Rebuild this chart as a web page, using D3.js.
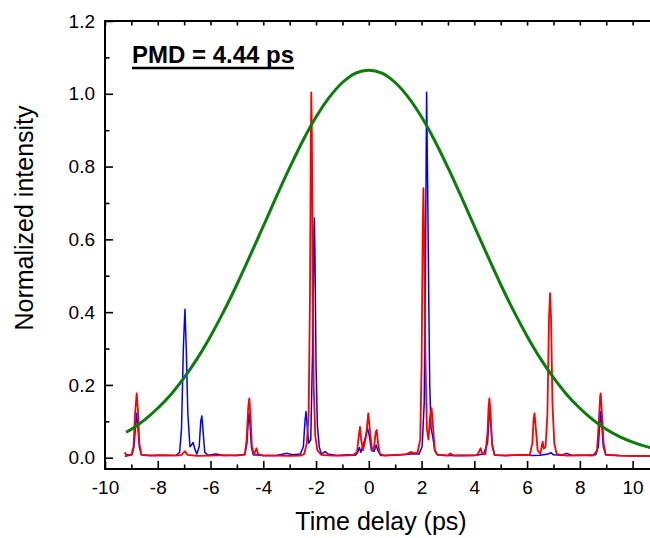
<!DOCTYPE html>
<html lang="en">
<head>
<meta charset="UTF-8">
<title>PMD time delay</title>
<script src="https://d3js.org/d3.v7.min.js"></script>
<style>
  body { margin: 0; background: #fff; }
  svg { display: block; font-family: Arial, "Liberation Sans", sans-serif; }
  .tick text { font-size: 19px; fill: #000; }
  .tick line { stroke: #000; stroke-width: 1.6px; }
  .axis-title { font-size: 25px; fill: #000; }
</style>
</head>
<body>
<svg width="650" height="538"></svg>
<script>
// measured traces, [time delay (ps), normalized intensity]
const blueTrace = [
  [-9.25,0.004],[-9.1,0.006],[-8.98,0.008],[-8.9,0.03],[-8.84,0.09],[-8.8,0.122],[-8.76,0.09],[-8.7,0.03],
  [-8.62,0.008],[-8.4,0.006],[-8.0,0.007],[-7.6,0.006],[-7.3,0.007],[-7.17,0.015],[-7.1,0.08],[-7.03,0.3],
  [-6.97,0.408],[-6.92,0.3],[-6.86,0.12],[-6.78,0.03],[-6.72,0.035],[-6.66,0.042],[-6.6,0.025],[-6.52,0.01],
  [-6.43,0.03],[-6.37,0.1],[-6.33,0.115],[-6.29,0.08],[-6.22,0.015],[-6.1,0.007],[-5.8,0.01],[-5.5,0.006],
  [-5.0,0.007],[-4.7,0.008],[-4.62,0.04],[-4.57,0.1],[-4.54,0.122],[-4.5,0.09],[-4.45,0.03],[-4.38,0.008],
  [-4.0,0.006],[-3.5,0.006],[-3.1,0.012],[-2.9,0.008],[-2.6,0.01],[-2.48,0.03],[-2.42,0.1],[-2.38,0.127],
  [-2.34,0.09],[-2.28,0.04],[-2.2,0.05],[-2.13,0.3],[-2.08,0.62],[-2.065,0.659],[-2.04,0.55],[-2.0,0.25],
  [-1.95,0.09],[-1.88,0.03],[-1.8,0.01],[-1.65,0.017],[-1.55,0.01],[-1.2,0.006],[-0.8,0.008],[-0.5,0.007],
  [-0.42,0.015],[-0.36,0.028],[-0.3,0.015],[-0.22,0.035],[-0.15,0.05],[-0.05,0.081],[0.02,0.06],[0.1,0.02],
  [0.2,0.018],[0.28,0.035],[0.34,0.02],[0.45,0.006],[0.8,0.007],[1.2,0.008],[1.6,0.01],[1.9,0.01],
  [2.02,0.03],[2.1,0.15],[2.15,0.55],[2.19,1.004],[2.23,0.75],[2.27,0.45],[2.31,0.2],[2.36,0.08],
  [2.42,0.06],[2.5,0.02],[2.6,0.008],[3.0,0.006],[3.5,0.007],[4.0,0.006],[4.35,0.01],[4.5,0.04],
  [4.55,0.1],[4.58,0.127],[4.62,0.1],[4.68,0.03],[4.78,0.007],[5.2,0.006],[5.8,0.008],[6.2,0.006],
  [6.5,0.007],[6.8,0.01],[6.9,0.014],[7.0,0.008],[7.3,0.007],[7.5,0.012],[7.7,0.006],[8.2,0.007],
  [8.6,0.008],[8.7,0.03],[8.75,0.09],[8.79,0.127],[8.83,0.09],[8.89,0.03],[8.98,0.008],[9.5,0.006],
  [10,0.005],[10.8,0.005]
];

const redTrace = [
  [-9.25,0.015],[-9.2,0.008],[-9.0,0.008],[-8.92,0.03],[-8.86,0.12],[-8.8,0.177],[-8.75,0.13],[-8.7,0.04],
  [-8.62,0.008],[-8.2,0.006],[-7.8,0.007],[-7.3,0.006],[-7.1,0.008],[-6.97,0.018],[-6.88,0.008],[-6.5,0.005],
  [-6.0,0.006],[-5.5,0.007],[-5.0,0.006],[-4.7,0.009],[-4.63,0.05],[-4.57,0.14],[-4.53,0.163],[-4.49,0.12],
  [-4.43,0.03],[-4.35,0.008],[-4.26,0.026],[-4.2,0.01],[-4.0,0.006],[-3.5,0.006],[-3.0,0.005],[-2.6,0.006],
  [-2.45,0.01],[-2.35,0.04],[-2.28,0.12],[-2.23,0.45],[-2.2,0.85],[-2.18,1.004],[-2.16,0.9],[-2.13,0.55],
  [-2.09,0.2],[-2.03,0.06],[-1.95,0.02],[-1.8,0.008],[-1.4,0.006],[-1.0,0.006],[-0.6,0.007],[-0.45,0.015],
  [-0.38,0.06],[-0.335,0.085],[-0.29,0.05],[-0.22,0.02],[-0.1,0.06],[-0.02,0.122],[0.05,0.07],[0.12,0.02],
  [0.2,0.03],[0.26,0.07],[0.3,0.076],[0.35,0.04],[0.42,0.01],[0.6,0.006],[1.0,0.007],[1.4,0.009],
  [1.6,0.016],[1.7,0.012],[1.85,0.015],[1.95,0.05],[2.0,0.25],[2.04,0.6],[2.07,0.741],[2.1,0.6],
  [2.14,0.3],[2.2,0.08],[2.26,0.05],[2.32,0.11],[2.38,0.136],[2.43,0.09],[2.5,0.02],[2.6,0.008],
  [3.0,0.006],[3.08,0.012],[3.2,0.006],[3.6,0.006],[4.1,0.007],[4.2,0.02],[4.24,0.026],[4.3,0.01],
  [4.42,0.01],[4.5,0.07],[4.54,0.14],[4.57,0.163],[4.61,0.13],[4.67,0.04],[4.76,0.008],[5.2,0.006],
  [5.8,0.008],[6.1,0.007],[6.2,0.04],[6.25,0.11],[6.28,0.122],[6.32,0.09],[6.4,0.02],[6.5,0.01],
  [6.55,0.03],[6.59,0.044],[6.63,0.025],[6.7,0.03],[6.77,0.12],[6.83,0.38],[6.87,0.452],[6.91,0.38],
  [6.96,0.15],[7.03,0.04],[7.12,0.01],[7.5,0.006],[8.0,0.007],[8.5,0.006],[8.65,0.02],[8.72,0.1],
  [8.77,0.17],[8.79,0.177],[8.83,0.13],[8.9,0.04],[8.98,0.008],[9.5,0.006],[10,0.005],[10.8,0.005]
];

// gaussian envelope
const fitCurve = [
  [-9.2,0.070],[-9,0.078],[-8.5,0.104],[-8,0.136],[-7.5,0.174],[-7,0.220],[-6.5,0.273],[-6,0.334],
  [-5.5,0.402],[-5,0.476],[-4.5,0.555],[-4,0.636],[-3.5,0.718],[-3,0.797],[-2.5,0.871],[-2,0.936],
  [-1.5,0.990],[-1,1.031],[-0.5,1.057],[0,1.065],[0.5,1.057],[1,1.031],[1.5,0.990],[2,0.936],
  [2.5,0.871],[3,0.797],[3.5,0.718],[4,0.636],[4.5,0.555],[5,0.476],[5.5,0.402],[6,0.334],
  [6.5,0.273],[7,0.220],[7.5,0.174],[8,0.136],[8.5,0.104],[9,0.078],[9.5,0.058],[10,0.043],
  [10.5,0.031],[10.8,0.025]
];

const xMajor = [-10, -8, -6, -4, -2, 0, 2, 4, 6, 8, 10];
const xMinor = [-9, -7, -5, -3, -1, 1, 3, 5, 7, 9];
const yMajor = [0, 0.2, 0.4, 0.6, 0.8, 1.0, 1.2];
const yMinor = [0.1, 0.3, 0.5, 0.7, 0.9, 1.1];
const pmdLabel = "PMD = 4.44 ps";

const svg = d3.select("svg");
const mLeft = 105, mRight = 659, mTop = 21, mBottom = 469;

const x = d3.scaleLinear().domain([-10, 11]).range([mLeft, mRight]);
const y = d3.scaleLinear().domain([-0.031, 1.2]).range([mBottom, mTop]);

// axes with inward ticks
svg.append("g")
    .attr("transform", `translate(0,${mBottom})`)
    .call(d3.axisBottom(x).tickValues(xMajor).tickSize(-8).tickSizeOuter(0).tickPadding(12)
        .tickFormat(d => String(d)))
    .call(g => g.select(".domain").remove());
svg.append("g")
    .attr("transform", `translate(0,${mBottom})`)
    .call(d3.axisBottom(x).tickValues(xMinor).tickSize(-4.5).tickSizeOuter(0).tickFormat(""))
    .call(g => g.select(".domain").remove());
svg.append("g")
    .attr("transform", `translate(0,${mTop})`)
    .call(d3.axisTop(x).tickValues(xMajor.concat(xMinor)).tickSize(-4.5).tickSizeOuter(0).tickFormat(""))
    .call(g => g.select(".domain").remove());
svg.append("g")
    .attr("transform", `translate(${mLeft},0)`)
    .call(d3.axisLeft(y).tickValues(yMajor).tickSize(-8).tickSizeOuter(0).tickPadding(10)
        .tickFormat(d3.format(".1f")))
    .call(g => g.select(".domain").remove());
svg.append("g")
    .attr("transform", `translate(${mLeft},0)`)
    .call(d3.axisLeft(y).tickValues(yMinor).tickSize(-4.5).tickSizeOuter(0).tickFormat(""))
    .call(g => g.select(".domain").remove());

// traces
const line = d3.line().x(d => x(d[0])).y(d => y(d[1]));

svg.append("path")
    .datum(blueTrace)
    .attr("fill", "none")
    .attr("stroke", "#0000ff")
    .attr("stroke-width", 1.5)
    .attr("stroke-linejoin", "round")
    .attr("d", line);

svg.append("path")
    .datum(redTrace)
    .attr("fill", "none")
    .attr("stroke", "#ff0000")
    .attr("stroke-width", 1.8)
    .attr("stroke-linejoin", "round")
    .attr("d", line);

svg.append("path")
    .datum(fitCurve)
    .attr("fill", "none")
    .attr("stroke", "#0a7d0a")
    .attr("stroke-width", 3)
    .attr("d", line.curve(d3.curveCatmullRom));

// frame
svg.append("rect")
    .attr("x", mLeft).attr("y", mTop)
    .attr("width", mRight - mLeft).attr("height", mBottom - mTop)
    .attr("fill", "none")
    .attr("stroke", "#000")
    .attr("stroke-width", 2);

// annotation
const pmd = svg.append("text")
    .attr("x", 132).attr("y", 63)
    .attr("font-size", 24)
    .attr("font-weight", "bold")
    .text(pmdLabel);
const w = pmd.node().getComputedTextLength();
svg.append("line")
    .attr("x1", 132).attr("x2", 132 + w)
    .attr("y1", 68).attr("y2", 68)
    .attr("stroke", "#000")
    .attr("stroke-width", 2.5);

// axis titles
svg.append("text")
    .attr("class", "axis-title")
    .attr("x", 381).attr("y", 530)
    .attr("text-anchor", "middle")
    .text("Time delay (ps)");
svg.append("text")
    .attr("class", "axis-title")
    .attr("transform", `translate(33,218) rotate(-90)`)
    .attr("text-anchor", "middle")
    .text("Normalized intensity");
</script>
</body>
</html>
